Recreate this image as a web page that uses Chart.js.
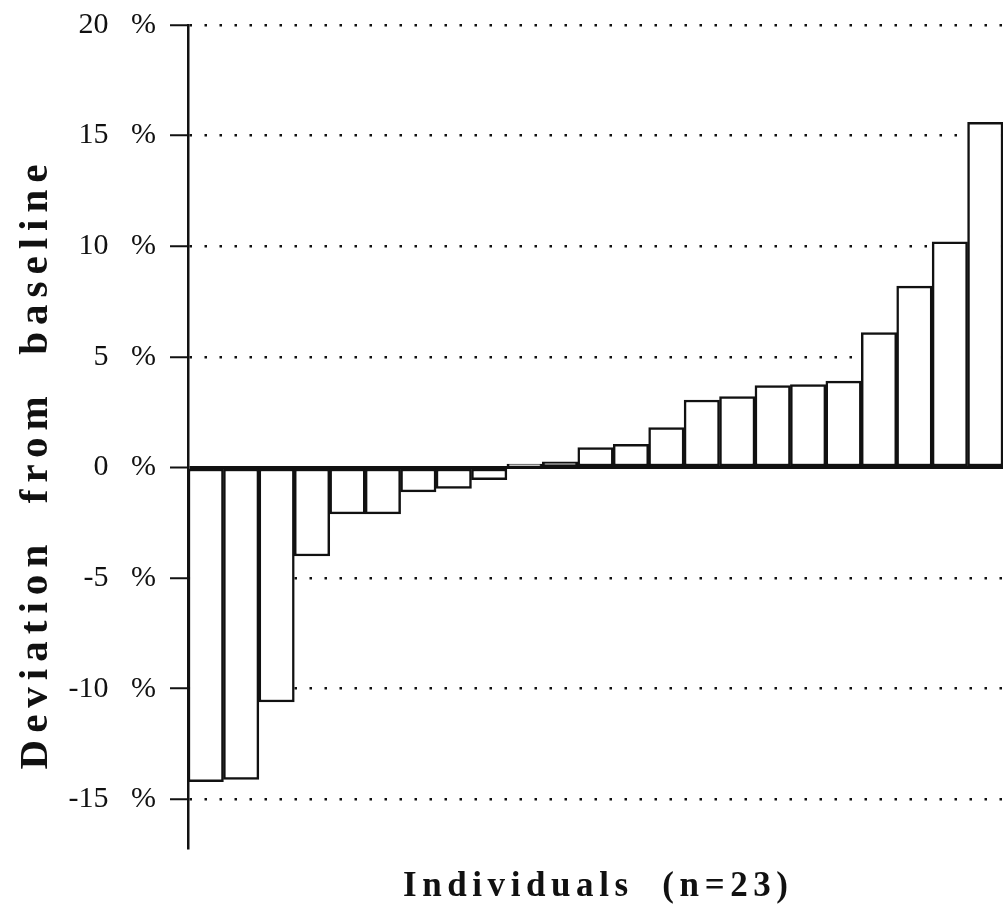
<!DOCTYPE html>
<html>
<head>
<meta charset="utf-8">
<title>Deviation from baseline</title>
<script src="https://cdn.jsdelivr.net/npm/chart.js@4/dist/chart.umd.min.js"></script>
<style>
    html,body{margin:0;padding:0;background:#fff;}
    #wrap{width:1005px;height:922px;position:relative;}
</style>
</head>
<body>
<div id="wrap"><canvas id="devChart"></canvas></div>
<script>

// ==========================
// Data
// ==========================

const individuals=[
    "1","2","3","4","5","6","7","8","9","10","11","12",
    "13","14","15","16","17","18","19","20","21","22","23"
];

const deviation=[
    -14.2,-14.1,-10.6,-4.0,-2.1,-2.1,-1.1,-0.95,-0.55,
    0.15,0.25,0.9,1.05,1.8,3.05,3.2,3.7,3.75,3.9,
    6.1,8.2,10.2,15.6
];

const yTicks=[-15,-10,-5,0,5,10,15,20];

const yTitle="Deviation  from  baseline";
const xTitle="Individuals  (n=23)";

// ==========================
// Axis titles (letter-spaced, like the scan)
// ==========================

const spacedTitles={

    id:"spacedTitles",

    afterDraw(chart){

        const ctx=chart.ctx;
        const area=chart.chartArea;

        const drawSpaced=(text,size,cx,cy,rot,targetWidth)=>{
            ctx.save();
            ctx.font="bold "+size+"px 'Liberation Serif', serif";
            ctx.fillStyle="#111";
            ctx.textBaseline="middle";
            ctx.textAlign="left";
            ctx.letterSpacing="0px";
            const natural=ctx.measureText(text).width;
            const gap=Math.max(0,(targetWidth-natural)/(text.length-1));
            ctx.letterSpacing=gap+"px";
            const w=natural+gap*(text.length-1);
            ctx.translate(cx,cy);
            ctx.rotate(rot);
            ctx.fillText(text,-w/2,0);
            ctx.restore();
        };

        drawSpaced(yTitle,41,36,467,-Math.PI/2,605);
        drawSpaced(xTitle,35,(area.left+area.right)/2,887,0,385);
    }
};

// ==========================
// Chart
// ==========================

new Chart(document.getElementById("devChart"),{

    type:"bar",

    data:{
        labels:individuals,
        datasets:[{
            data:deviation,
            backgroundColor:"#fff",
            borderColor:"#111",
            borderWidth:2.5,
            borderSkipped:false,
            barPercentage:1,
            categoryPercentage:1
        }]
    },

    options:{

        responsive:true,
        maintainAspectRatio:false,
        animation:false,
        devicePixelRatio:1,

        layout:{
            padding:{top:25,bottom:74,left:0,right:2}
        },

        plugins:{
            legend:{display:false},
            tooltip:{enabled:false}
        },

        scales:{

            x:{
                display:false
            },

            y:{
                min:-17.2,
                max:20,
                afterBuildTicks(scale){
                    scale.ticks=yTicks.map(v=>({value:v}));
                },
                afterFit(scale){
                    scale.width=188;
                    scale.paddingTop=0;
                    scale.paddingBottom=0;
                },
                ticks:{
                    color:"#111",
                    padding:14,
                    font:{family:"'Liberation Serif', serif",size:30},
                    callback:v=>v+"   %"
                },
                grid:{
                    color:"#111",
                    lineWidth:c=>c.tick && c.tick.value===0 ? 3 : 2.5,
                    tickLength:18,
                    tickColor:"#111",
                    tickWidth:2,
                    tickBorderDash:[]
                },
                border:{
                    display:true,
                    color:"#111",
                    width:2.5,
                    dash:c=>c.tick && c.tick.value===0 ? [] : [2.5,12.5]
                }
            }
        }
    },

    plugins:[spacedTitles]

});

</script>
</body>
</html>
